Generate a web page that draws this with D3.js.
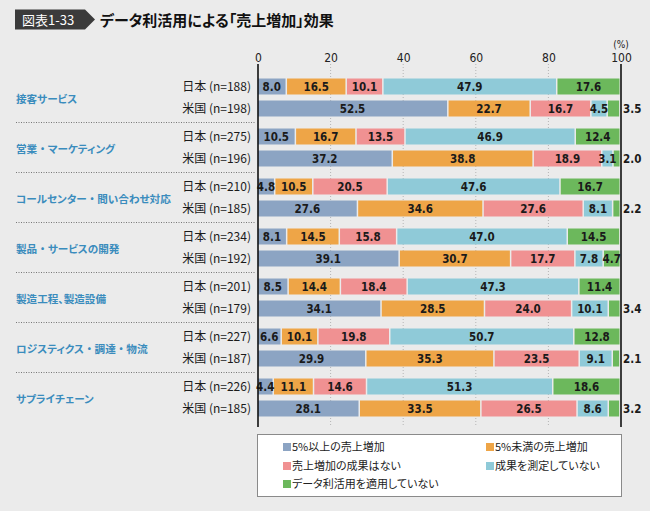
<!DOCTYPE html>
<html><head><meta charset="utf-8">
<script src="https://cdn.jsdelivr.net/npm/d3@7"></script>
<style>body{margin:0;background:#ebebeb;} svg{display:block} .palt{font-feature-settings:"palt" 1;} .full{font-feature-settings:normal;}</style>
</head><body><svg id="c" width="650" height="511"></svg>
<script>
const categories = ["接客サービス","営業・マーケティング","コールセンター・問い合わせ対応","製品・サービスの開発","製造工程、製造設備","ロジスティクス・調達・物流","サプライチェーン"];
const countries = ["日本","米国"];
const nJapan = [188,275,210,234,201,227,226];
const nUS = [198,196,185,192,179,187,185];
const seriesNames = ["5%以上の売上増加","5%未満の売上増加","売上増加の成果はない","成果を測定していない","データ利活用を適用していない"];
const seriesColors = ["#8ca4c3","#eea547","#f09192","#8fcad8","#6cb85c"];
// row order: 日本, 米国 for each category
const s1 = [8.0,52.5,10.5,37.2,4.8,27.6,8.1,39.1,8.5,34.1,6.6,29.9,4.4,28.1];
const s2 = [16.5,22.7,16.7,38.8,10.5,34.6,14.5,30.7,14.4,28.5,10.1,35.3,11.1,33.5];
const s3 = [10.1,16.7,13.5,18.9,20.5,27.6,15.8,17.7,18.4,24.0,19.8,23.5,14.6,26.5];
const s4 = [47.9,4.5,46.9,3.1,47.6,8.1,47.0,7.8,47.3,10.1,50.7,9.1,51.3,8.6];
const s5 = [17.6,3.5,12.4,2.0,16.7,2.2,14.5,4.7,11.4,3.4,12.8,2.1,18.6,3.2];
const xTicks = [0,20,40,60,80,100];

const series = [s1,s2,s3,s4,s5];
const keys = ["s1","s2","s3","s4","s5"];
const rows = [];
categories.forEach((c,gi)=>{
  countries.forEach((ct,ci)=>{
    const i = gi*2+ci;
    const r = {cat:c, country:ct, n: ci===0?nJapan[gi]:nUS[gi]};
    keys.forEach((k,si)=>r[k]=series[si][i]);
    rows.push(r);
  });
});

const svg = d3.select("#c");
const JP = "'Noto Sans CJK JP','Noto Sans',sans-serif";
const NUM = "'DejaVu Sans Condensed','Roboto','Noto Sans CJK JP',sans-serif";

// Title
svg.append("path").attr("d","M15,9.5H85L95,19.5L85,29.5H15Z").attr("fill","#3b3b3b");
svg.append("text").attr("x",22).attr("y",24.5).attr("fill","#fff").attr("font-family",JP).attr("font-size",13).text("図表1-33");
svg.append("text").attr("class","palt").attr("x",100).attr("y",25.5).attr("fill","#111").attr("font-family",JP).attr("font-weight","bold").attr("font-size",15).text("データ利活用による「売上増加」効果");

const x = d3.scaleLinear().domain([0,100]).range([258,621]);
const yG = d3.scaleBand().domain(categories).range([72.5,422.5]).padding(0);
const yR = d3.scaleBand().domain(countries).range([0,yG.bandwidth()]).paddingInner(0.273).paddingOuter(0.273);
const rowY = r => yG(r.cat)+yR(r.country);

// gridlines
svg.append("g").selectAll("line").data(xTicks.filter(t=>t>0&&t<100)).join("line")
  .attr("x1",d=>x(d)).attr("x2",d=>x(d)).attr("y1",64).attr("y2",427)
  .attr("stroke","#b5b5b5").attr("stroke-width",1).attr("stroke-dasharray","1,2");

// tick labels via axis
const axis = d3.axisTop(x).tickValues(xTicks).tickSize(0).tickPadding(0);
const ag = svg.append("g").attr("transform","translate(0,62)").call(axis);
ag.select(".domain").remove();
ag.selectAll("text").attr("font-family",NUM).attr("font-size",12).attr("fill","#222").attr("dy",0);
svg.append("text").attr("x",x(100)).attr("y",47.5).attr("text-anchor","middle").attr("font-family",NUM).attr("font-size",10).attr("fill","#222").text("(%)");

// bars
const stack = d3.stack().keys(keys)(rows);
const gBars = svg.append("g");
stack.forEach((layer,si)=>{
  gBars.append("g").selectAll("rect").data(layer).join("rect")
    .attr("x",d=>x(d[0]))
    .attr("width",d=>Math.max(0,x(Math.min(100,d[1]))-x(d[0])-1.5))
    .attr("y",d=>rowY(d.data))
    .attr("height",yR.bandwidth())
    .attr("fill",seriesColors[si]);
});
// labels
stack.forEach((layer,si)=>{
  gBars.append("g").selectAll("text").data(layer).join("text")
    .each(function(d){
      const v = d.data[keys[si]];
      const outside = si===keys.length-1 && v<4;
      d3.select(this)
        .attr("x", outside ? x(100)+2 : (x(d[0])+x(Math.min(100,d[1]))-1.5)/2)
        .attr("text-anchor", outside ? "start" : "middle")
        .attr("y", rowY(d.data)+yR.bandwidth()/2+4.2)
        .text(v.toFixed(1));
    })
    .attr("font-family",NUM).attr("font-size",11.5).attr("font-weight","bold").attr("fill","#1a1a1a");
});

// axis lines at 0 and 100
svg.append("g").selectAll("line").data([0,100]).join("line")
  .attr("x1",d=>x(d)).attr("x2",d=>x(d)).attr("y1",64).attr("y2",427)
  .attr("stroke","#111").attr("stroke-width",1.6);

// separators
svg.append("g").selectAll("line").data(categories.slice(1)).join("line")
  .attr("x1",16).attr("x2",255).attr("y1",d=>yG(d)).attr("y2",d=>yG(d))
  .attr("stroke","#777").attr("stroke-width",1).attr("stroke-dasharray","1,1.5");

// category labels (proportional kana, full-width middle dots)
const catText = svg.append("g").selectAll("text").data(categories).join("text")
  .attr("class","palt")
  .attr("x",16).attr("y",d=>yG(d)+yG.bandwidth()/2+5)
  .attr("font-family",JP).attr("font-size",10.6).attr("font-weight","bold").attr("fill","#3a8cbd");
catText.each(function(d){
  const t = d3.select(this);
  d.split(/(・)/).filter(p=>p.length).forEach(p=>{
    t.append("tspan").attr("class", p==="・" ? "full" : null).text(p);
  });
});

// row labels
svg.append("g").selectAll("text").data(rows).join("text")
  .attr("x",251).attr("text-anchor","end").attr("y",d=>rowY(d)+yR.bandwidth()/2+4.5)
  .attr("font-family",JP).attr("font-size",12).attr("fill","#1a1a1a").text(d=>`${d.country} (n=${d.n})`);

// legend
svg.append("rect").attr("x",257.5).attr("y",434.5).attr("width",364).attr("height",62).attr("fill","#fff").attr("stroke","#8a8a8a");
const legPos = [[283,447],[486,447],[283,466],[486,466],[283,484]];
const lg = svg.append("g").selectAll("g").data(seriesNames).join("g")
  .attr("transform",(d,i)=>`translate(${legPos[i][0]},${legPos[i][1]})`);
lg.append("rect").attr("x",0).attr("y",-4).attr("width",8).attr("height",8).attr("fill",(d,i)=>seriesColors[i]);
lg.append("text").attr("class","palt").attr("x",9).attr("y",4).attr("font-family",JP).attr("font-size",11).attr("fill","#222").text(d=>d);
</script></body></html>
